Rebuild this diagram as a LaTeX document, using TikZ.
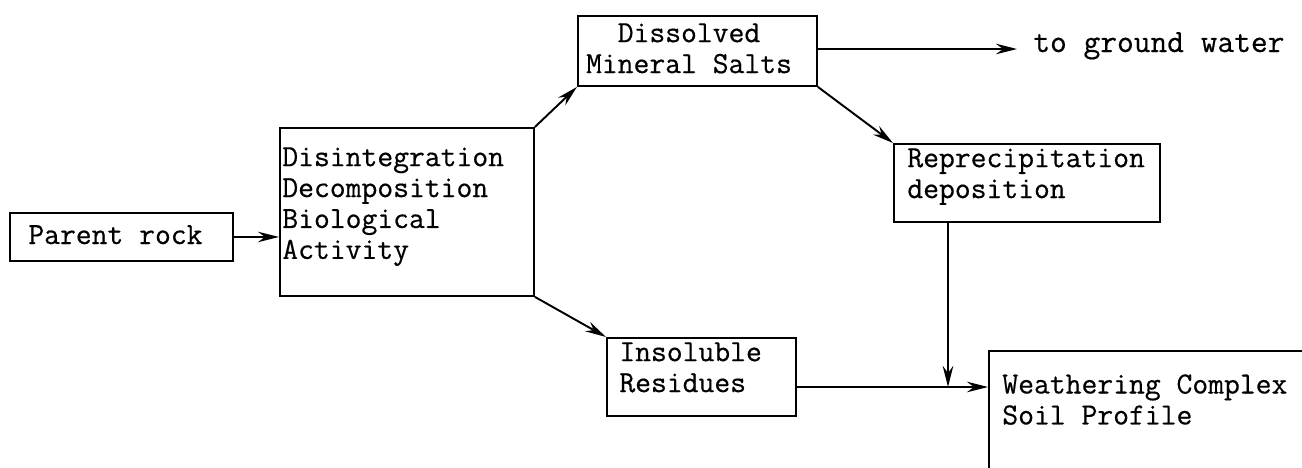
\documentclass[tikz,border=0pt]{standalone}
\usepackage{fontspec}
\setmonofont[FakeBold=0.5]{Latin Modern Mono}
\usetikzlibrary{arrows.meta}
\begin{document}
\begin{tikzpicture}[x=0.02cm,y=-0.02cm,
  box/.style={draw, line width=1.1pt, rectangle, inner sep=0pt, anchor=north west},
  txt/.style={inner sep=0pt, font=\ttfamily\fontsize{17.5}{17.6}\selectfont},
  conn/.style={line width=1.1pt, -{Stealth[length=12pt,width=6pt,inset=4pt]}}]
\useasboundingbox (0,0) rectangle (1302,467);
\clip (0,0) rectangle (1302,467);
\fill[white] (0,0) rectangle (1302,467);
% boxes
\node[box, minimum width=4.46cm, minimum height=0.96cm] (pr) at (9,212) {};
\node[box, minimum width=5.08cm, minimum height=3.36cm] (dis) at (279,127) {};
\node[box, minimum width=4.78cm, minimum height=1.4cm] (dms) at (577,15) {};
\node[box, minimum width=5.32cm, minimum height=1.56cm] (rep) at (893,143) {};
\node[box, minimum width=3.78cm, minimum height=1.56cm] (ins) at (606,337) {};
\node[box, minimum width=8cm, minimum height=4cm] (wc) at (988,350) {};
% texts
\node[txt, anchor=base west] (prt) at (28,244) {Parent rock};
\node[txt, anchor=north west, align=left] (dist) at (282,147) {Disintegration\\Decomposition\\Biological\\Activity};
\node[txt, anchor=north, align=center] (dmst) at (689,23) {Dissolved\\Mineral Salts};
\node[txt, anchor=north west, align=left] (rept) at (907,148) {Reprecipitation\\deposition};
\node[txt, anchor=north west, align=left] (inst) at (619,342) {Insoluble\\Residues};
\node[txt, anchor=north west, align=left] (wct) at (1002,374) {Weathering Complex\\Soil Profile};
\node[txt, anchor=base west, font=\ttfamily\fontsize{18.5}{19}\selectfont] (gwt) at (1033,52) {to ground water};
% coordinates
\coordinate (gw) at (1017,49);
\coordinate (jn) at (948,387);
% connectors
\draw[conn] (pr.east) -- (pr.east -| dis.west);
\draw[conn] (dis.north east) -- (dms.south west);
\draw[conn] (dms.east |- gw) -- (gw);
\draw[conn] (dms.south east) -- (rep.north west);
\draw[conn] (dis.south east) -- (ins.north west);
\draw[conn] (rep.south -| jn) -- (jn);
\draw[conn] (ins.east |- jn) -- (wc.west |- jn);
\end{tikzpicture}
\end{document}
